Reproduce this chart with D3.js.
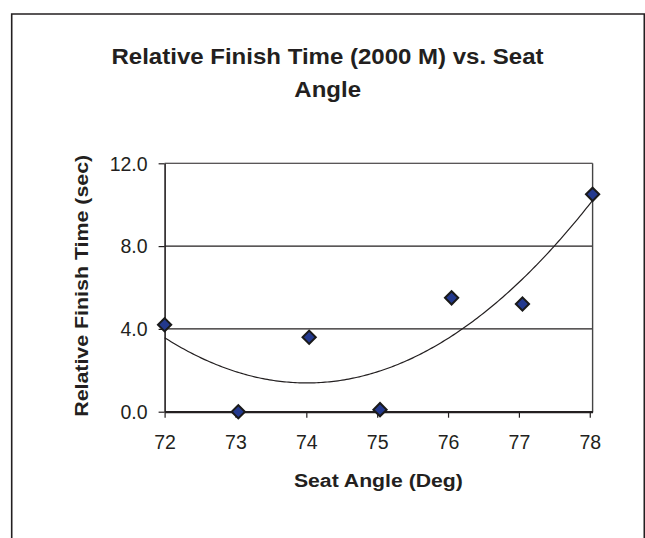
<!DOCTYPE html>
<html>
<head>
<meta charset="utf-8">
<script src="https://cdn.jsdelivr.net/npm/d3@7"></script>
<style>
  html, body { margin: 0; padding: 0; background: #fff; }
  svg { display: block; }
  text { font-family: "Liberation Sans", Arial, sans-serif; fill: #231f20; }
</style>
</head>
<body>
<svg id="chart" width="645" height="538"></svg>
<script>
// ---- data ----
const seatAngle  = [72.0, 73.04, 74.04, 75.04, 76.05, 77.05, 78.04];
const finishTime = [4.2, 0.0, 3.6, 0.1, 5.5, 5.2, 10.5];
const xTicks = [72, 73, 74, 75, 76, 77, 78];
const yTicks = [0, 4, 8, 12];
const titleLines = ["Relative Finish Time (2000 M) vs. Seat", "Angle"];
const xTitle = "Seat Angle (Deg)";
const yTitle = "Relative Finish Time (sec)";

const svg = d3.select("#chart");
const W = 645, H = 538;
const plot = { left: 164.6, right: 592.6, top: 163.3, bottom: 411.7 };

const x = d3.scaleLinear().domain([72, 78.04]).range([plot.left, plot.right]);
const y = d3.scaleLinear().domain([0, 12]).range([plot.bottom, plot.top]);

// outer chart border
svg.append("path")
  .attr("d", `M11.7,${H + 5} L11.7,14 L644.3,14 L644.3,${H + 5}`)
  .attr("fill", "none").attr("stroke", "#231f20").attr("stroke-width", 1.6);

// title
const titleG = svg.append("g");
titleG.append("text").attr("x", 327.5).attr("y", 64)
  .attr("text-anchor", "middle").attr("font-size", 22).attr("font-weight", "bold")
  .attr("textLength", 432).attr("lengthAdjust", "spacingAndGlyphs")
  .text(titleLines[0]);
titleG.append("text").attr("x", 327.7).attr("y", 96.5)
  .attr("text-anchor", "middle").attr("font-size", 22).attr("font-weight", "bold")
  .attr("textLength", 66.7).attr("lengthAdjust", "spacingAndGlyphs")
  .text(titleLines[1]);

// gridlines
svg.append("g").selectAll("line").data(yTicks.filter(d => d > 0)).join("line")
  .attr("x1", plot.left).attr("x2", plot.right)
  .attr("y1", d => y(d)).attr("y2", d => y(d))
  .attr("stroke", "#231f20").attr("stroke-width", 1.1);

// plot area right border
svg.append("line")
  .attr("x1", plot.right).attr("x2", plot.right)
  .attr("y1", plot.top).attr("y2", plot.bottom)
  .attr("stroke", "#444").attr("stroke-width", 1.4);

// y axis
const yAxis = d3.axisLeft(y).tickValues(yTicks).tickFormat(d3.format(".1f"))
  .tickSize(6).tickSizeOuter(0).tickPadding(11);
const yg = svg.append("g").attr("transform", `translate(${plot.left},0)`).call(yAxis);
yg.select(".domain").attr("stroke", "#231f20").attr("stroke-width", 1.6);
yg.selectAll(".tick line").attr("stroke", "#231f20").attr("stroke-width", 1.2);
yg.selectAll(".tick text").attr("font-size", 19.5).attr("font-family", "Liberation Sans, Arial, sans-serif")
  .attr("fill", "#231f20").attr("dy", "0.35em");

// x axis
const xAxis = d3.axisBottom(x).tickValues(xTicks).tickFormat(d3.format("d"))
  .tickSize(6).tickSizeOuter(0).tickPadding(10);
const xg = svg.append("g").attr("transform", `translate(0,${plot.bottom})`).call(xAxis);
xg.select(".domain").attr("stroke", "#231f20").attr("stroke-width", 2.2);
xg.selectAll(".tick line").attr("stroke", "#231f20").attr("stroke-width", 1.2);
xg.selectAll(".tick text").attr("font-size", 19.5).attr("font-family", "Liberation Sans, Arial, sans-serif")
  .attr("fill", "#231f20").attr("dy", null).attr("y", 37.8);

// quadratic least-squares trendline computed from the data
function polyfit2(xs, ys) {
  const n = xs.length;
  const mx = d3.mean(xs);
  let s = { x: 0, x2: 0, x3: 0, x4: 0, y: 0, xy: 0, x2y: 0 };
  xs.forEach((xv, i) => {
    const t = xv - mx, yv = ys[i];
    s.x += t; s.x2 += t * t; s.x3 += t * t * t; s.x4 += t * t * t * t;
    s.y += yv; s.xy += t * yv; s.x2y += t * t * yv;
  });
  const A = [[n, s.x, s.x2], [s.x, s.x2, s.x3], [s.x2, s.x3, s.x4]];
  const B = [s.y, s.xy, s.x2y];
  const det = m => m[0][0]*(m[1][1]*m[2][2]-m[1][2]*m[2][1]) - m[0][1]*(m[1][0]*m[2][2]-m[1][2]*m[2][0]) + m[0][2]*(m[1][0]*m[2][1]-m[1][1]*m[2][0]);
  const D = det(A);
  const coef = [0, 1, 2].map(k => {
    const M = A.map((row, r) => row.map((v, c) => c === k ? B[r] : v));
    return det(M) / D;
  });
  return xv => { const t = xv - mx; return coef[0] + coef[1] * t + coef[2] * t * t; };
}
const fit = polyfit2(seatAngle, finishTime);
const xMin = d3.min(seatAngle), xMax = d3.max(seatAngle);
const samples = d3.range(0, 201).map(i => xMin + (xMax - xMin) * i / 200);
svg.append("path")
  .attr("d", d3.line().x(d => x(d)).y(d => y(fit(d)))(samples))
  .attr("fill", "none").attr("stroke", "#231f20").attr("stroke-width", 1.2);

// markers (diamonds)
const diamond = d3.symbol().type(d3.symbolSquare).size(88);
svg.append("g").selectAll("path").data(seatAngle.map((a, i) => [a, finishTime[i]])).join("path")
  .attr("d", diamond)
  .attr("transform", d => `translate(${x(d[0])},${y(d[1])}) rotate(45)`)
  .attr("fill", "#23398e").attr("stroke", "#1a1a1a").attr("stroke-width", 2);

// axis titles
svg.append("text").attr("x", 378.4).attr("y", 486.7)
  .attr("text-anchor", "middle").attr("font-size", 18.7).attr("font-weight", "bold")
  .attr("textLength", 169).attr("lengthAdjust", "spacingAndGlyphs")
  .text(xTitle);
svg.append("text")
  .attr("transform", "translate(88.3,285.8) rotate(-90)")
  .attr("text-anchor", "middle").attr("font-size", 18.7).attr("font-weight", "bold")
  .attr("textLength", 262).attr("lengthAdjust", "spacingAndGlyphs")
  .text(yTitle);
</script>
</body>
</html>
